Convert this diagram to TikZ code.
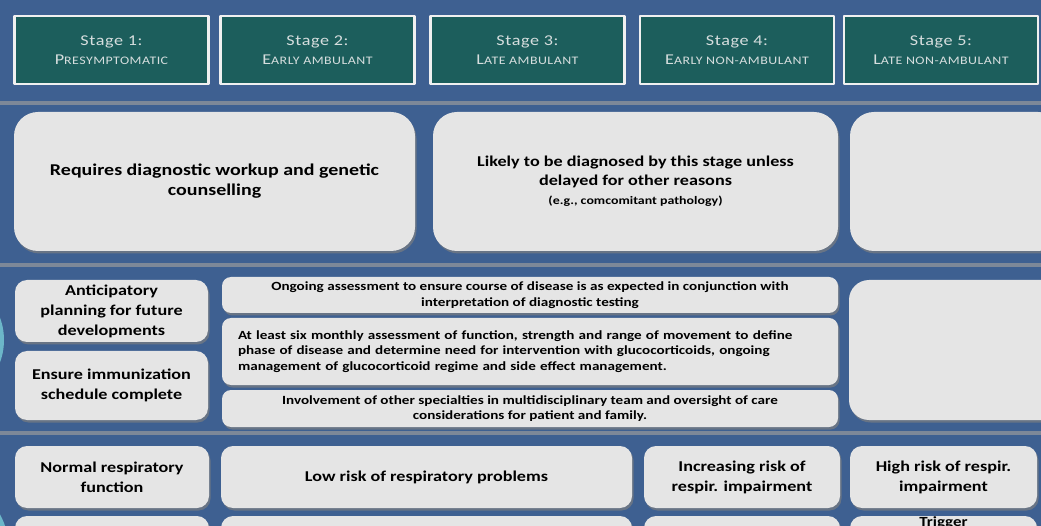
\documentclass[tikz,border=0pt]{standalone}
\usepackage{fontspec}
\setmainfont{Carlito}[FakeStretch=1.21]
\usetikzlibrary{shadows}
\definecolor{nen}{RGB}{62,96,145}
\definecolor{xanhdam}{RGB}{28,94,92}
\definecolor{xam}{RGB}{229,229,229}
\definecolor{vach}{RGB}{125,136,152}
\definecolor{chu}{RGB}{214,222,222}
\definecolor{ngoc}{RGB}{120,205,215}
\newcommand{\nho}[2]{#1{\fontsize{11.5}{12}\selectfont #2}}
\begin{document}
\begin{tikzpicture}[x=1pt,y=-1pt,line join=round,
	tieude/.style={draw=white!88!gray,line width=2.5pt,fill=xanhdam,text=chu,align=center,inner sep=0pt,font=\addfontfeature{LetterSpace=4}\fontsize{15}{19}\selectfont},
	hop/.style={fill=xam,rounded corners=12pt,align=center,inner sep=0pt,font=\bfseries\fontsize{15}{20}\selectfont,drop shadow={shadow xshift=1.5pt,shadow yshift=-2.5pt,opacity=.65}},
	nhohop/.style={hop,rounded corners=9pt,font=\bfseries\fontsize{12.5}{15.5}\selectfont}] 
	%Vẽ nền
	\useasboundingbox (0,0) rectangle (1041,526);
	\clip (0,0) rectangle (1041,526);
	\fill[nen] (0,0) rectangle (1041,526);
	\fill[ngoc,opacity=.8] (-60,340) circle (64) (-66,550) circle (75);
	\foreach \y in {103,265,433} \draw[vach,line width=4pt] (0,\y)--(1041,\y);
	%Vẽ hàng tiêu đề
	\foreach \x/\so/\a/\b in {111.5/1/P/RESYMPTOMATIC,317.5/2/E/ARLY AMBULANT,527.5/3/L/ATE AMBULANT,737/4/E/ARLY NON-AMBULANT,941/5/L/ATE NON-AMBULANT}
	\node[tieude,minimum width=194pt,minimum height=68pt] (gd\so) at (\x,50) {Stage \so:\\\nho{\a}{\b}};
	%Vẽ hàng chẩn đoán
	\node[hop,rounded corners=24pt,minimum width=401pt,minimum height=139pt,font=\bfseries\fontsize{16.5}{20}\selectfont] (cd1) at (214.5,181.5) {Requires diagnostic workup and genetic\\counselling};
	\node[hop,rounded corners=24pt,minimum width=405pt,minimum height=139pt,font=\bfseries\fontsize{15}{19}\selectfont] (cd2) at (635.5,181.5) {Likely to be diagnosed by this stage unless\\delayed for other reasons\\{\fontsize{11.5}{14}\selectfont (e.g., comcomitant pathology)}};
	\node[hop,rounded corners=24pt,minimum width=212pt,minimum height=139pt] (cd3) at (956,181.5) {};
	%Vẽ hàng theo dõi
	\node[hop,minimum width=193pt,minimum height=62pt] (td1) at (111.5,311) {Anticipatory\\planning for future\\developments};
	\node[hop,minimum width=193pt,minimum height=69pt] (td2) at (111.5,385.5) {Ensure immunization\\schedule complete};
	\node[nhohop,minimum width=616pt,minimum height=36pt] (td3) at (530,295) {Ongoing assessment to ensure course of disease is as expected in conjunction with\\interpretation of diagnostic testing};
	\node[nhohop,minimum width=616pt,minimum height=67pt,text width=584pt,align=left] (td4) at (530,351.5) {At least six monthly assessment of function, strength and range of movement to define\\phase of disease and determine need for intervention with glucocorticoids, ongoing\\management of glucocorticoid regime and side effect management.};
	\node[nhohop,minimum width=616pt,minimum height=37pt] (td5) at (530,408.5) {Involvement of other specialties in multidisciplinary team and oversight of care\\considerations for patient and family.};
	\node[hop,rounded corners=20pt,minimum width=213pt,minimum height=140pt] (td6) at (955.5,350) {};
	%Vẽ hàng hô hấp
	\node[hop,minimum width=194pt,minimum height=62pt] (hh1) at (112,477) {Normal respiratory\\function};
	\node[hop,minimum width=411pt,minimum height=62pt] (hh2) at (426.5,477) {Low risk of respiratory problems};
	\node[hop,minimum width=196pt,minimum height=62pt] (hh3) at (742,477) {Increasing risk of\\respir. impairment};
	\node[hop,minimum width=187pt,minimum height=62pt] (hh4) at (943.5,477) {High risk of respir.\\impairment};
	%Hàng cuối bị cắt
	\foreach \x/\w/\so in {112/194/1,426.5/411/2,742/196/3} \node[hop,minimum width=\w pt,minimum height=62pt] (hc\so) at (\x,547) {};
	\node[hop,minimum width=187pt,minimum height=62pt,label={[anchor=north,inner sep=1pt,font=\bfseries\fontsize{14}{16}\selectfont]north:Trigger}] (hc4) at (943.5,547) {};
\end{tikzpicture}
\end{document}
